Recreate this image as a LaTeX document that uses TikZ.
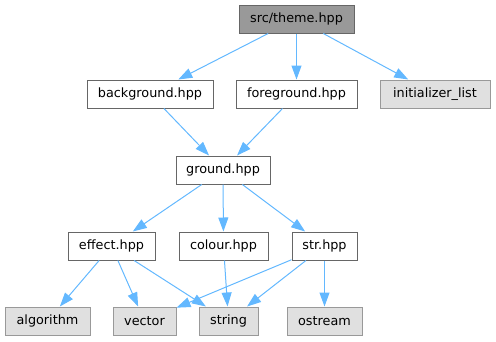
\documentclass[tikz,border=0pt]{standalone}
\usepackage{fontspec}
\setmainfont{DejaVu Sans}
\usetikzlibrary{arrows.meta}
\definecolor{edgeblue}{HTML}{63B8FF}
\definecolor{darkbox}{HTML}{999999}
\definecolor{darkline}{HTML}{666666}
\definecolor{lightbox}{HTML}{E0E0E0}
\definecolor{lightline}{HTML}{999999}
\begin{document}
\begin{tikzpicture}[x=1pt,y=-1pt,
  file/.style={draw=darkline,fill=white,line width=1pt,minimum height=28pt,inner sep=0pt,
    font=\fontsize{12.8pt}{14pt}\selectfont},
  mainfile/.style={file,fill=darkbox},
  sysfile/.style={file,draw=lightline,fill=lightbox},
  dep/.style={draw=edgeblue,line width=1pt,-{Triangle[length=14pt,width=10pt]}}]
\useasboundingbox (0,0) rectangle (496,341);
% top level
\node[mainfile,minimum width=115pt] (theme) at (296.5,19) {src/theme.hpp};
% first level includes
\node[file,minimum width=126pt] (bg) at (150,94) {background.hpp};
\node[file,minimum width=121pt] (fg) at (296.5,94) {foreground.hpp};
\node[sysfile,minimum width=110pt] (init) at (435,94) {initializer\_list};
% shared header
\node[file,minimum width=94pt] (ground) at (223,170) {ground.hpp};
% second level
\node[file,minimum width=87pt] (effect) at (111.5,246) {effect.hpp};
\node[file,minimum width=89pt] (colour) at (223.5,246) {colour.hpp};
\node[file,minimum width=65pt] (str) at (324.5,246) {str.hpp};
% standard headers
\node[sysfile,minimum width=85pt] (algorithm) at (47.5,321) {algorithm};
\node[sysfile,minimum width=63pt] (vector) at (144.5,321) {vector};
\node[sysfile,minimum width=59pt] (string) at (228.5,321) {string};
\node[sysfile,minimum width=75pt] (ostream) at (324.5,321) {ostream};
% include edges
\draw[dep] (theme) -- (bg);
\draw[dep] (theme) -- (fg);
\draw[dep] (theme) -- (init);
\draw[dep] (bg) -- (ground);
\draw[dep] (fg) -- (ground);
\draw[dep] (ground) -- (effect);
\draw[dep] (ground) -- (colour);
\draw[dep] (ground) -- (str);
\draw[dep] (effect) -- (algorithm);
\draw[dep] (effect) -- (vector);
\draw[dep] (effect) -- (string);
\draw[dep] (colour) -- (string);
\draw[dep] (str) -- (vector);
\draw[dep] (str) -- (string);
\draw[dep] (str) -- (ostream);
\end{tikzpicture}
\end{document}
